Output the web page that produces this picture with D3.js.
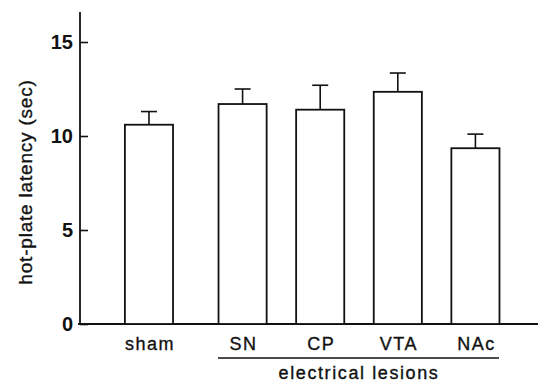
<!DOCTYPE html>
<html>
<head>
<meta charset="utf-8">
<script src="https://cdn.jsdelivr.net/npm/d3@7"></script>
<style>
  body { margin: 0; background: #fff; }
  text { font-family: "Liberation Sans", Arial, sans-serif; fill: #111; }
  text.lbl { stroke: #111; stroke-width: 0.35px; }
</style>
</head>
<body>
<div id="chart"></div>
<script>
// values
const categories = ['sham', 'SN', 'CP', 'VTA', 'NAc'];
const means = [10.6, 11.7, 11.4, 12.35, 9.35];
const sems = [0.7, 0.8, 1.3, 1.0, 0.75];
const lesionGroup = ['SN', 'CP', 'VTA', 'NAc'];
const yTicks = [0, 5, 10, 15];

const width = 538, height = 384;
const axisX = 80, axisY0 = 324, yTop = 12;

const svg = d3.select('#chart').append('svg')
  .attr('width', width)
  .attr('height', height);

// y scale
const y = d3.scaleLinear()
  .domain([0, 15])
  .range([axisY0, 42]);

// lesion bars share equal spacing, sham sits a bit further left
const x = d3.scaleBand()
  .domain(lesionGroup)
  .range([203, 515])
  .paddingInner(0.38)
  .paddingOuter(0.2);
const shamGap = 16;
const xPos = (c) => c === 'sham' ? x('SN') - x.step() - shamGap : x(c);

// y axis line + ticks (ticks point inward)
const yAxis = d3.axisRight(y)
  .tickValues(yTicks)
  .tickSize(8)
  .tickFormat('');
const gy = svg.append('g')
  .attr('transform', 'translate(' + axisX + ',0)')
  .call(yAxis);
gy.select('.domain').remove();
gy.selectAll('.tick line').attr('stroke', '#111').attr('stroke-width', 1.6);
svg.append('line')
  .attr('x1', axisX).attr('x2', axisX)
  .attr('y1', yTop).attr('y2', axisY0)
  .attr('stroke', '#111').attr('stroke-width', 1.8);

svg.append('g').selectAll('text')
  .data(yTicks)
  .enter().append('text')
  .attr('x', 73)
  .attr('y', (d) => y(d))
  .attr('dy', '0.36em')
  .attr('text-anchor', 'end')
  .style('font-size', '20px')
  .style('font-weight', 'bold')
  .text((d) => d);

// x baseline
svg.append('line')
  .attr('x1', axisX - 2).attr('x2', width)
  .attr('y1', axisY0).attr('y2', axisY0)
  .attr('stroke', '#111').attr('stroke-width', 1.8);

// bars
const rows = categories.map((c, i) => ({ c: c, m: means[i], e: sems[i] }));
const bars = svg.append('g');
bars.selectAll('rect')
  .data(rows)
  .enter().append('rect')
  .attr('x', (d) => xPos(d.c))
  .attr('y', (d) => y(d.m))
  .attr('width', x.bandwidth())
  .attr('height', (d) => axisY0 - y(d.m))
  .attr('fill', '#fff')
  .attr('stroke', '#111')
  .attr('stroke-width', 1.8);

// error bars (upper only)
const capW = 16;
const err = svg.append('g').attr('stroke', '#111').attr('stroke-width', 1.6);
err.selectAll('line.v')
  .data(rows)
  .enter().append('line')
  .attr('class', 'v')
  .attr('x1', (d) => xPos(d.c) + x.bandwidth() / 2)
  .attr('x2', (d) => xPos(d.c) + x.bandwidth() / 2)
  .attr('y1', (d) => y(d.m))
  .attr('y2', (d) => y(d.m + d.e));
err.selectAll('line.h')
  .data(rows)
  .enter().append('line')
  .attr('class', 'h')
  .attr('x1', (d) => xPos(d.c) + x.bandwidth() / 2 - capW / 2)
  .attr('x2', (d) => xPos(d.c) + x.bandwidth() / 2 + capW / 2)
  .attr('y1', (d) => y(d.m + d.e))
  .attr('y2', (d) => y(d.m + d.e));

// category labels
svg.append('g').selectAll('text')
  .data(categories)
  .enter().append('text')
  .attr('class', 'lbl')
  .attr('x', (c) => xPos(c) + x.bandwidth() / 2 + 1)
  .attr('y', 350)
  .attr('text-anchor', 'middle')
  .style('font-size', '18px')
  .style('letter-spacing', '1.5px')
  .text((c) => c);

// bracket under lesion groups
svg.append('line')
  .attr('x1', 218).attr('x2', 499)
  .attr('y1', 358).attr('y2', 358)
  .attr('stroke', '#111').attr('stroke-width', 1.5);

svg.append('text')
  .attr('class', 'lbl')
  .attr('x', 359)
  .attr('y', 379)
  .attr('text-anchor', 'middle')
  .style('font-size', '18px')
  .style('letter-spacing', '1.6px')
  .text('electrical lesions');

// y label
svg.append('text')
  .attr('class', 'lbl')
  .attr('transform', 'translate(32,182) rotate(-90)')
  .attr('text-anchor', 'middle')
  .style('font-size', '19px')
  .style('letter-spacing', '0.8px')
  .text('hot-plate latency (sec)');
</script>
</body>
</html>
